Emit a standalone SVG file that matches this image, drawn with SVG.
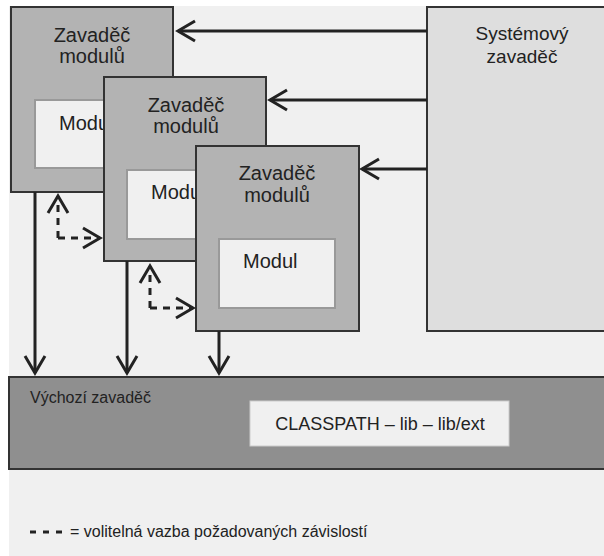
<svg xmlns="http://www.w3.org/2000/svg" width="604" height="556" viewBox="0 0 604 556">
<defs>
<marker id="open" viewBox="0 0 22 24" refX="19" refY="12" markerWidth="22" markerHeight="24" markerUnits="userSpaceOnUse" orient="auto">
<path d="M2,2 L19,12 L2,22" fill="none" stroke="#222" stroke-width="3"/>
</marker>
</defs>
<style>
text{font-family:"Liberation Sans",Arial,sans-serif;fill:#222;font-size:20px}
.ldr{fill:#b3b3b3;stroke:#333;stroke-width:2}
.inner{fill:#f0f0f0;stroke:#999;stroke-width:2}
.c{text-anchor:middle}
.conn{fill:none;stroke:#222;stroke-width:3;marker-end:url(#open)}
.dash{fill:none;stroke:#222;stroke-width:3;stroke-dasharray:7,6;marker-end:url(#open)}
</style>
<rect x="0" y="0" width="604" height="556" fill="#ffffff"/>
<rect x="9" y="6" width="595" height="550" fill="#f0f0f0"/>
<g id="system">
<rect x="427" y="7" width="180" height="324" fill="#dedede" stroke="#333" stroke-width="2"/>
<text class="c" x="522" y="40" style="font-size:19px">Systémový</text>
<text class="c" x="522" y="63" style="font-size:19px">zavaděč</text>
</g>
<g id="loader1">
<rect class="ldr" x="11" y="7" width="162" height="185"/>
<text class="c" x="92" y="42">Zavaděč</text>
<text class="c" x="92" y="63">modulů</text>
<rect class="inner" x="35" y="100" width="116" height="68"/>
<text x="59" y="130">Modul</text>
</g>
<g id="loader2">
<rect class="ldr" x="104" y="77" width="162" height="184"/>
<text class="c" x="186" y="112">Zavaděč</text>
<text class="c" x="186" y="133">modulů</text>
<rect class="inner" x="127" y="170" width="116" height="69"/>
<text x="151" y="199">Modul</text>
</g>
<g id="loader3">
<rect class="ldr" x="196" y="146" width="163" height="185"/>
<text class="c" x="277" y="180">Zavaděč</text>
<text class="c" x="277" y="202">modulů</text>
<rect class="inner" x="219" y="239" width="116" height="69"/>
<text x="243" y="268">Modul</text>
</g>
<g id="default">
<rect x="9" y="377" width="597" height="92" fill="#8f8f8f" stroke="#333" stroke-width="2"/>
<text x="30" y="403" style="font-size:16px">Výchozí zavaděč</text>
<rect x="250" y="401" width="259" height="45" fill="#f0f0f0" stroke="#ccc" stroke-width="1"/>
<text class="c" x="380" y="430" style="font-size:18px">CLASSPATH – lib – lib/ext</text>
</g>
<g id="connectors">
<path class="conn" d="M427,31 H178"/>
<path class="conn" d="M427,100 H270"/>
<path class="conn" d="M427,169 H362"/>
<path class="conn" d="M35,192 V373"/>
<path class="conn" d="M127,261 V373"/>
<path class="conn" d="M219,331 V373"/>
<path class="dash" d="M58,238 V196"/>
<path class="dash" d="M58,238 H100"/>
<path class="dash" d="M150,308 V266"/>
<path class="dash" d="M150,308 H193"/>
</g>
<g id="legend">
<path d="M30,532 H62" stroke="#222" stroke-width="3" stroke-dasharray="6,7"/>
<text x="70" y="537" style="font-size:16px">= volitelná vazba požadovaných závislostí</text>
</g>
</svg>
